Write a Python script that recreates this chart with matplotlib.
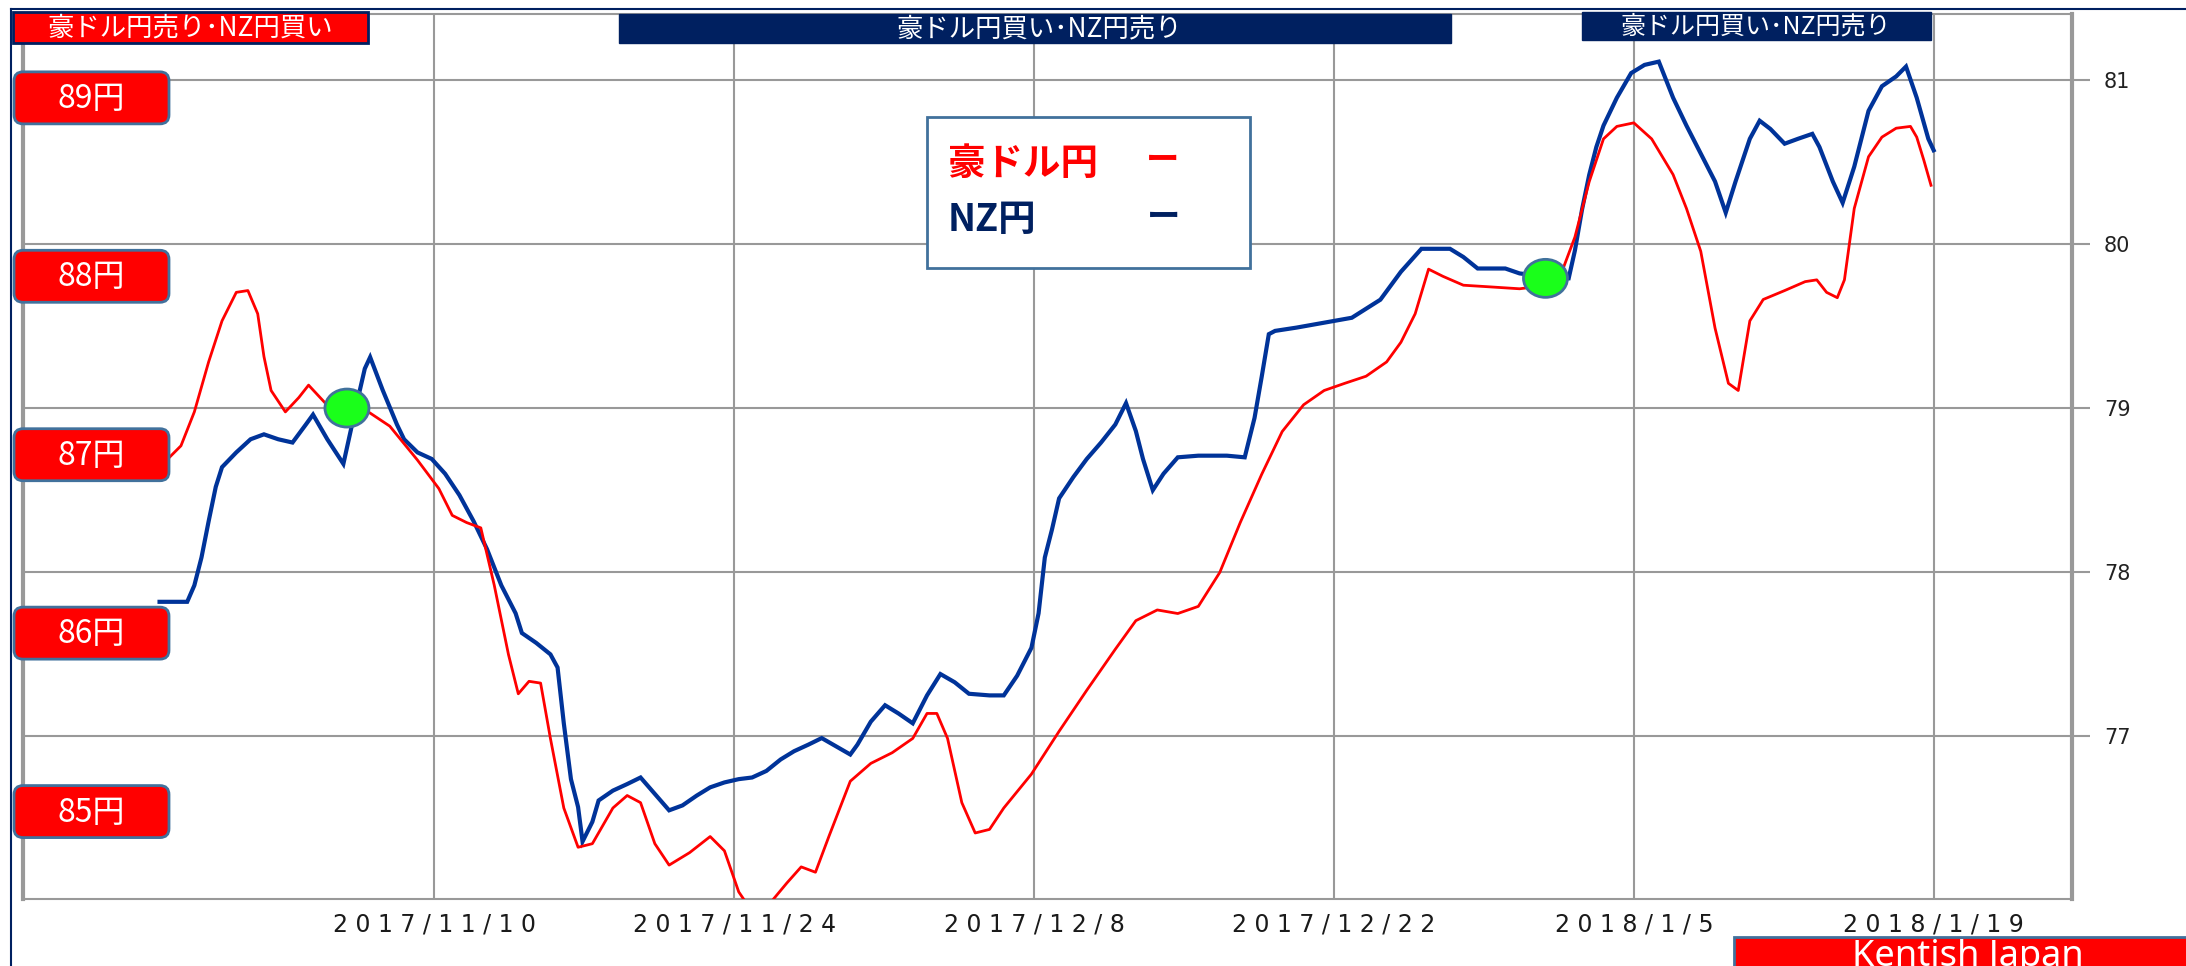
import matplotlib
matplotlib.use("Agg")
import matplotlib.pyplot as plt
import matplotlib.dates as mdates
from matplotlib.patches import FancyBboxPatch, Rectangle, Ellipse
import pandas as pd

plt.rcParams['font.family'] = ['Noto Sans CJK JP', 'DejaVu Sans']

W, H = 2186, 966

# NZ円 (right axis)
nz_time = [
    "2017-10-28 04:00", "2017-10-29 11:00", "2017-10-29 19:00", "2017-10-30 03:00", "2017-10-30 11:00",
    "2017-10-30 19:00", "2017-10-31 02:00", "2017-10-31 18:00", "2017-11-01 10:00", "2017-11-02 01:00",
    "2017-11-02 17:00", "2017-11-03 09:00", "2017-11-04 00:00", "2017-11-04 08:00", "2017-11-05 00:00",
    "2017-11-05 18:00", "2017-11-06 07:00", "2017-11-06 18:00", "2017-11-07 00:00", "2017-11-07 14:00",
    "2017-11-08 06:00", "2017-11-08 14:00", "2017-11-09 05:00", "2017-11-09 21:00", "2017-11-10 12:00",
    "2017-11-11 04:00", "2017-11-11 20:00", "2017-11-12 11:00", "2017-11-13 03:00", "2017-11-13 19:00",
    "2017-11-14 02:00", "2017-11-14 18:00", "2017-11-15 10:00", "2017-11-15 18:00", "2017-11-16 01:00",
    "2017-11-16 09:00", "2017-11-16 17:00", "2017-11-16 22:00", "2017-11-17 09:00", "2017-11-17 16:00",
    "2017-11-18 08:00", "2017-11-19 00:00", "2017-11-19 15:00", "2017-11-20 07:00", "2017-11-20 23:00",
    "2017-11-21 14:00", "2017-11-22 06:00", "2017-11-22 21:00", "2017-11-23 13:00", "2017-11-24 05:00",
    "2017-11-24 20:00", "2017-11-25 12:00", "2017-11-26 04:00", "2017-11-26 19:00", "2017-11-27 11:00",
    "2017-11-28 02:00", "2017-11-28 18:00", "2017-11-29 10:00", "2017-11-29 18:00", "2017-11-30 09:00",
    "2017-12-01 01:00", "2017-12-01 16:00", "2017-12-02 08:00", "2017-12-03 00:00", "2017-12-03 15:00",
    "2017-12-04 07:00", "2017-12-04 23:00", "2017-12-05 22:00", "2017-12-06 14:00", "2017-12-07 05:00",
    "2017-12-07 21:00", "2017-12-08 05:00", "2017-12-08 12:00", "2017-12-08 20:00", "2017-12-09 04:00",
    "2017-12-09 20:00", "2017-12-10 11:00", "2017-12-11 03:00", "2017-12-11 19:00", "2017-12-12 07:00",
    "2017-12-12 18:00", "2017-12-13 02:00", "2017-12-13 13:00", "2017-12-14 01:00", "2017-12-14 17:00",
    "2017-12-15 16:00", "2017-12-17 00:00", "2017-12-17 20:00", "2017-12-18 07:00", "2017-12-18 15:00",
    "2017-12-18 23:00", "2017-12-19 06:00", "2017-12-20 06:00", "2017-12-21 13:00", "2017-12-22 20:00",
    "2017-12-24 04:00", "2017-12-25 03:00", "2017-12-26 02:00", "2017-12-27 10:00", "2017-12-28 01:00",
    "2017-12-28 17:00", "2017-12-30 00:00", "2017-12-30 16:00", "2017-12-31 07:00", "2017-12-31 23:00",
    "2018-01-01 23:00", "2018-01-02 06:00", "2018-01-02 14:00", "2018-01-02 22:00", "2018-01-03 06:00",
    "2018-01-03 14:00", "2018-01-04 05:00", "2018-01-04 21:00", "2018-01-05 12:00", "2018-01-06 04:00",
    "2018-01-06 20:00", "2018-01-07 11:00", "2018-01-08 03:00", "2018-01-08 19:00", "2018-01-09 07:00",
    "2018-01-09 18:00", "2018-01-10 10:00", "2018-01-10 21:00", "2018-01-11 09:00", "2018-01-12 01:00",
    "2018-01-12 16:00", "2018-01-13 08:00", "2018-01-13 16:00", "2018-01-14 07:00", "2018-01-14 18:00",
    "2018-01-15 07:00", "2018-01-15 23:00", "2018-01-16 14:00", "2018-01-17 06:00", "2018-01-17 17:00",
    "2018-01-18 05:00", "2018-01-18 18:00", "2018-01-19 00:00",
]
nz_value = [
    77.82, 77.82, 77.92, 78.09, 78.31, 78.52, 78.64, 78.73, 78.81, 78.84,
    78.81, 78.79, 78.90, 78.96, 78.81, 78.66, 78.98, 79.24, 79.31, 79.11,
    78.90, 78.81, 78.73, 78.69, 78.60, 78.47, 78.31, 78.14, 77.92, 77.75,
    77.63, 77.57, 77.50, 77.42, 77.08, 76.74, 76.57, 76.36, 76.48, 76.61,
    76.67, 76.71, 76.75, 76.65, 76.55, 76.58, 76.64, 76.69, 76.72, 76.74,
    76.75, 76.79, 76.86, 76.91, 76.95, 76.99, 76.94, 76.89, 76.95, 77.09,
    77.19, 77.14, 77.08, 77.25, 77.38, 77.33, 77.26, 77.25, 77.25, 77.37,
    77.54, 77.75, 78.09, 78.26, 78.45, 78.58, 78.69, 78.79, 78.90, 79.03,
    78.86, 78.69, 78.50, 78.60, 78.70, 78.71, 78.71, 78.70, 78.94, 79.19,
    79.45, 79.47, 79.49, 79.52, 79.55, 79.66, 79.83, 79.97, 79.97, 79.92,
    79.85, 79.85, 79.82, 79.81, 79.79, 79.79, 79.96, 80.21, 80.42, 80.59,
    80.72, 80.89, 81.04, 81.09, 81.11, 80.89, 80.72, 80.55, 80.38, 80.19,
    80.38, 80.64, 80.75, 80.70, 80.61, 80.64, 80.67, 80.59, 80.38, 80.25,
    80.47, 80.81, 80.96, 81.02, 81.08, 80.89, 80.64, 80.57,
]

# 豪ドル円 (left scale)
aud_time = [
    "2017-10-28 12:00", "2017-10-29 04:00", "2017-10-29 19:00", "2017-10-30 11:00", "2017-10-31 02:00",
    "2017-10-31 18:00", "2017-11-01 07:00", "2017-11-01 18:00", "2017-11-02 01:00", "2017-11-02 09:00",
    "2017-11-03 01:00", "2017-11-03 16:00", "2017-11-04 03:00", "2017-11-04 16:00", "2017-11-05 07:00",
    "2017-11-05 23:00", "2017-11-06 22:00", "2017-11-07 22:00", "2017-11-09 05:00", "2017-11-10 05:00",
    "2017-11-10 20:00", "2017-11-11 12:00", "2017-11-12 04:00", "2017-11-12 19:00", "2017-11-13 11:00",
    "2017-11-13 22:00", "2017-11-14 10:00", "2017-11-14 23:00", "2017-11-15 10:00", "2017-11-16 01:00",
    "2017-11-16 17:00", "2017-11-17 09:00", "2017-11-18 08:00", "2017-11-19 00:00", "2017-11-19 15:00",
    "2017-11-20 07:00", "2017-11-20 23:00", "2017-11-21 22:00", "2017-11-22 21:00", "2017-11-23 13:00",
    "2017-11-24 05:00", "2017-11-25 04:00", "2017-11-25 20:00", "2017-11-26 11:00", "2017-11-27 03:00",
    "2017-11-27 19:00", "2017-11-28 10:00", "2017-11-29 10:00", "2017-11-30 09:00", "2017-12-01 09:00",
    "2017-12-02 08:00", "2017-12-03 00:00", "2017-12-03 11:00", "2017-12-03 23:00", "2017-12-04 15:00",
    "2017-12-05 06:00", "2017-12-05 22:00", "2017-12-06 14:00", "2017-12-07 21:00", "2017-12-09 04:00",
    "2017-12-10 11:00", "2017-12-11 19:00", "2017-12-12 18:00", "2017-12-13 18:00", "2017-12-14 17:00",
    "2017-12-15 16:00", "2017-12-16 16:00", "2017-12-17 15:00", "2017-12-18 15:00", "2017-12-19 14:00",
    "2017-12-20 14:00", "2017-12-21 13:00", "2017-12-22 12:00", "2017-12-23 12:00", "2017-12-24 11:00",
    "2017-12-25 03:00", "2017-12-25 19:00", "2017-12-26 10:00", "2017-12-27 02:00", "2017-12-28 01:00",
    "2017-12-29 09:00", "2017-12-30 16:00", "2017-12-31 23:00", "2018-01-01 15:00", "2018-01-02 06:00",
    "2018-01-02 22:00", "2018-01-03 14:00", "2018-01-04 05:00", "2018-01-05 00:00", "2018-01-05 20:00",
    "2018-01-06 20:00", "2018-01-07 11:00", "2018-01-08 03:00", "2018-01-08 19:00", "2018-01-09 10:00",
    "2018-01-09 21:00", "2018-01-10 10:00", "2018-01-11 01:00", "2018-01-12 01:00", "2018-01-13 00:00",
    "2018-01-13 13:00", "2018-01-14 00:00", "2018-01-14 12:00", "2018-01-14 20:00", "2018-01-15 07:00",
    "2018-01-15 23:00", "2018-01-16 14:00", "2018-01-17 06:00", "2018-01-17 22:00", "2018-01-18 05:00",
    "2018-01-18 13:00", "2018-01-18 21:00",
]
aud_value = [
    86.97, 87.05, 87.24, 87.52, 87.75, 87.91, 87.92, 87.79, 87.55, 87.36,
    87.24, 87.32, 87.39, 87.32, 87.24, 87.26, 87.24, 87.16, 86.97, 86.81,
    86.66, 86.62, 86.59, 86.27, 85.88, 85.66, 85.73, 85.72, 85.41, 85.02,
    84.80, 84.82, 85.02, 85.09, 85.05, 84.82, 84.70, 84.77, 84.86, 84.78,
    84.55, 84.38, 84.51, 84.60, 84.69, 84.66, 84.86, 85.17, 85.27, 85.33,
    85.41, 85.55, 85.55, 85.41, 85.05, 84.88, 84.90, 85.02, 85.21, 85.45,
    85.68, 85.91, 86.07, 86.13, 86.11, 86.15, 86.34, 86.62, 86.89, 87.13,
    87.28, 87.36, 87.40, 87.44, 87.52, 87.63, 87.79, 88.04, 88.00, 87.95,
    87.94, 87.93, 87.95, 88.02, 88.22, 88.53, 88.77, 88.84, 88.86, 88.77,
    88.57, 88.38, 88.14, 87.71, 87.40, 87.36, 87.75, 87.87, 87.92, 87.97,
    87.98, 87.91, 87.88, 87.98, 88.38, 88.67, 88.78, 88.83, 88.84, 88.78,
    88.65, 88.51,
]

# signal points (on NZ円 line)
signal_time = ["2017-11-05 22:00", "2017-12-31 21:00"]
signal_value = [79.00, 79.79]

tick_dates = ["2017-11-10", "2017-11-24", "2017-12-08", "2017-12-22", "2018-01-05", "2018-01-19"]
tick_labels = ["2017/11/10", "2017/11/24", "2017/12/8", "2017/12/22", "2018/1/5", "2018/1/19"]
nz_ticks = [77, 78, 79, 80, 81]
aud_ticks = [85, 86, 87, 88, 89]
aud_labels = ["85円", "86円", "87円", "88円", "89円"]

NAVY = '#002060'
LINE_BLUE = '#003399'
RED = '#ff0000'
GRID = '#999999'
EDGE = '#41719c'
GREEN = '#1aff1a'

fig = plt.figure(figsize=(W / 100, H / 100), dpi=100)
fig.patch.set_facecolor('white')

ax = fig.add_axes([23 / W, (H - 899) / H, (2072 - 23) / W, (899 - 14) / H])
ax_r = ax.twinx()

ax.plot(pd.to_datetime(nz_time), nz_value, color=LINE_BLUE, lw=3, solid_joinstyle='miter')
ax_r.plot(pd.to_datetime(aud_time), aud_value, color=RED, lw=2, solid_joinstyle='round')

ax.set_xlim(pd.Timestamp("2017-10-21 19:00"), pd.Timestamp("2018-01-25 11:00"))
ax.set_ylim(76.01, 81.40)
ax_r.set_ylim(84.51, 89.47)

ax.set_xticks(pd.to_datetime(tick_dates))
ax.set_xticklabels([" ".join(s) for s in tick_labels], fontsize=17, family='DejaVu Sans',
                   color='#1a1a1a')
ax.tick_params(axis='x', length=0, pad=10)
ax.yaxis.tick_right()
ax.set_yticks(nz_ticks)
ax.set_yticklabels([str(t) for t in nz_ticks], fontsize=15, family='DejaVu Sans', color='#222222')
ax.tick_params(axis='y', length=13, width=1.5, color=GRID, pad=10)
ax_r.set_yticks([])

ax.grid(True, color=GRID, lw=1.5)
ax.set_axisbelow(True)
for name, sp in ax.spines.items():
    sp.set_color(GRID)
    sp.set_linewidth(3 if name in ('left', 'right') else 1.5)
for sp in ax_r.spines.values():
    sp.set_visible(False)

# overlay in pixel coordinates for boxes and labels
ov = fig.add_axes([0, 0, 1, 1], zorder=10)
ov.set_xlim(0, W)
ov.set_ylim(H, 0)
ov.axis('off')

# frame lines
ov.plot([11, W], [9, 9], color=NAVY, lw=1.5)
ov.plot([11, 11], [9, H], color=NAVY, lw=1.5)

# left-side yen boxes, placed at the AUD scale values
for v, lab in zip(aud_ticks, aud_labels):
    yc = H - ax_r.transData.transform((0, v))[1]
    ov.add_patch(FancyBboxPatch((14, yc - 26), 155, 52, boxstyle='round,pad=0,rounding_size=9',
                                fc=RED, ec=EDGE, lw=2))
    ov.text(91, yc + 1, lab, color='white', fontsize=23, ha='center', va='center')

# signal markers
for t, v in zip(signal_time, signal_value):
    px, py = ax.transData.transform((mdates.date2num(pd.Timestamp(t)), v))
    ov.add_patch(Ellipse((px, H - py), 44, 38, fc=GREEN, ec=EDGE, lw=2))

# top banners
ov.add_patch(Rectangle((13, 12), 355, 31, fc=RED, ec=NAVY, lw=2))
ov.text(190, 28, "豪ドル円売り･NZ円買い", color='white', fontsize=19, ha='center', va='center')
ov.add_patch(Rectangle((619, 14), 832, 29, fc=NAVY, ec=NAVY, lw=1))
ov.text(1039, 29, "豪ドル円買い･NZ円売り", color='white', fontsize=19, ha='center', va='center')
ov.add_patch(Rectangle((1582, 12), 349, 28, fc=NAVY, ec=NAVY, lw=1))
ov.text(1756, 26, "豪ドル円買い･NZ円売り", color='white', fontsize=18, ha='center', va='center')

# legend box
ov.add_patch(Rectangle((927, 117), 323, 151, fc='white', ec=EDGE, lw=2))
ov.text(948, 163, "豪ドル円", color=RED, fontsize=27, weight='bold', ha='left', va='center')
ov.text(1163, 160, "ー", color=RED, fontsize=24, weight='bold', ha='center', va='center')
ov.text(948, 220, "NZ円", color=NAVY, fontsize=27, weight='bold', ha='left', va='center')
ov.text(1164, 217, "ー", color=NAVY, fontsize=24, weight='bold', ha='center', va='center')

# footer
ov.add_patch(Rectangle((1734, 937), 470, 60, fc=RED, ec=EDGE, lw=2, clip_on=False))
ov.text(1968, 966, "Kentish Japan", color='white', fontsize=26, family='Noto Sans',
        ha='center', va='baseline')

ov.set_xlim(0, W)
ov.set_ylim(H, 0)

fig.savefig("out.png", dpi=100)
